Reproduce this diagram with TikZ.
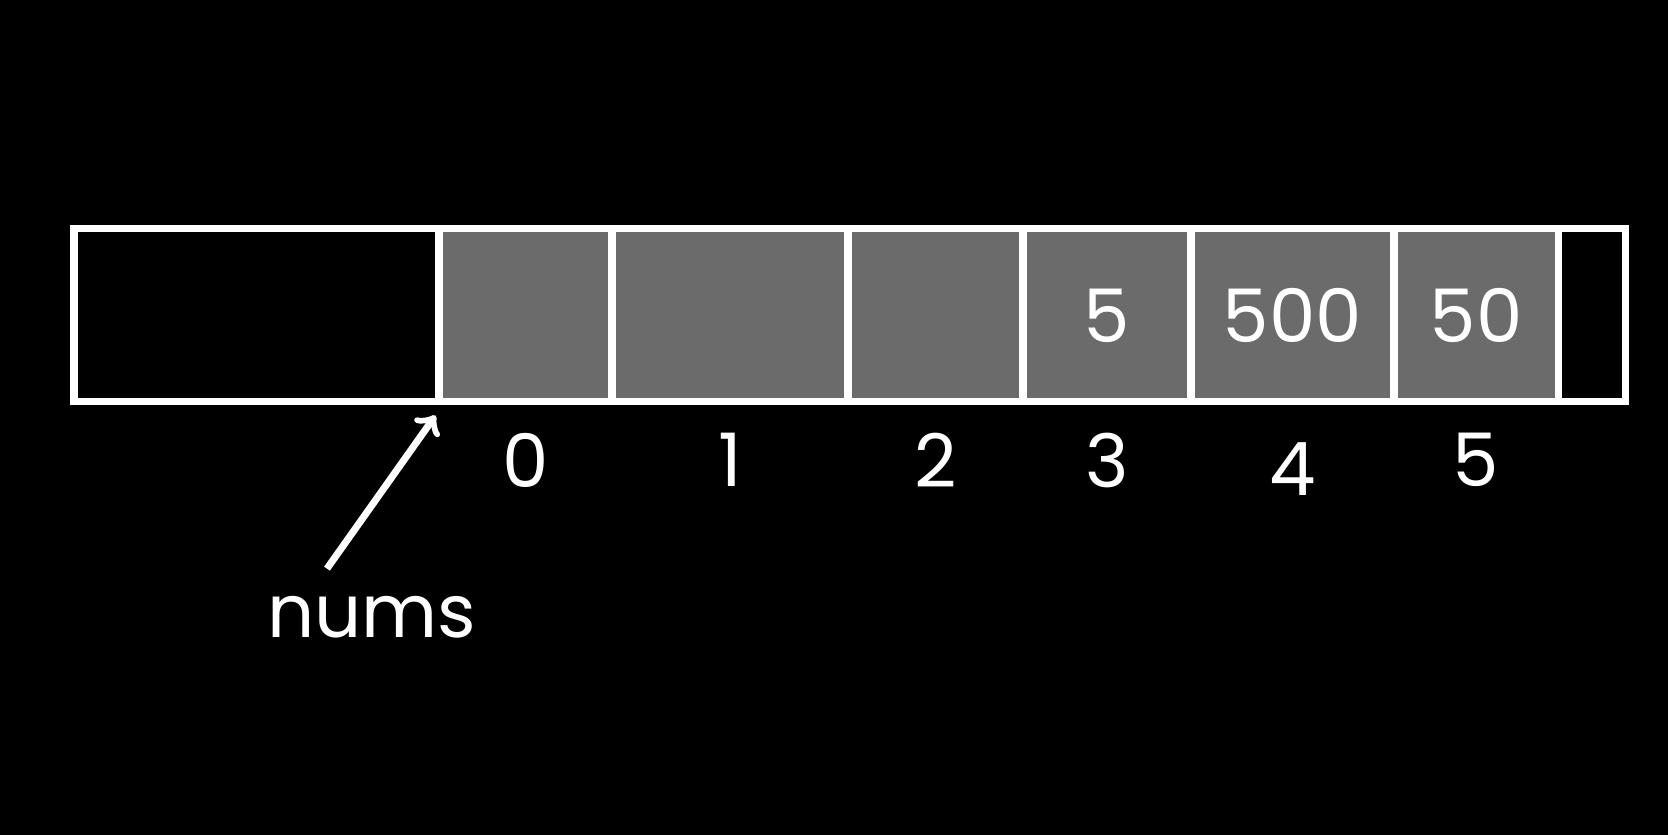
\documentclass[tikz,border=0pt]{standalone}
\usepackage{fontspec}
\setmainfont{Poppins}
\usetikzlibrary{positioning}
\definecolor{cellgray}{HTML}{6B6B6B}
\tikzset{
  cell/.style={draw=white, line width=2pt, fill=cellgray, minimum height=1.73cm, inner sep=0pt},
  blank/.style={draw=white, line width=2pt, minimum height=1.73cm, inner sep=0pt},
  handtext/.style={text=white, font=\fontsize{21}{25}\selectfont}
}
\begin{document}
\begin{tikzpicture}
        \fill[black] (0,0) rectangle (16.68,8.35);
        \node[blank, minimum width=3.65cm] (left) at (2.565,5.195){};
        \node[cell, minimum width=1.73cm] (c0) at (5.255,5.195){};
        \node[cell, minimum width=2.36cm] (c1) at (7.30,5.195){};
        \node[cell, minimum width=1.75cm] (c2) at (9.355,5.195){};
        \node[cell, minimum width=1.68cm, handtext] (c3) at (11.07,5.195){5};
        \node[cell, minimum width=2.03cm, handtext] (c4) at (12.925,5.195){500};
        \node[cell, minimum width=1.64cm, handtext] (c5) at (14.76,5.195){50};
        \node[blank, minimum width=0.67cm] (right) at (15.915,5.195){};
        \node[handtext, below=0.15cm of c0] (i0){0};
        \node[handtext, below=0.15cm of c1] (i1){1};
        \node[handtext, below=0.15cm of c2] (i2){2};
        \node[handtext, below=0.15cm of c3] (i3){3};
        \node[handtext, below=0.25cm of c4] (i4){4};
        \node[handtext, below=0.15cm of c5] (i5){5};
        \node[handtext] (nums) at (3.72,2.18){nums};
        \coordinate (start) at ([yshift=-0.1cm]c0.south west);
        \draw[->, white, line width=2pt] ([xshift=-0.45cm, yshift=0.15cm]nums.north) -- (start);
\end{tikzpicture}
\end{document}
